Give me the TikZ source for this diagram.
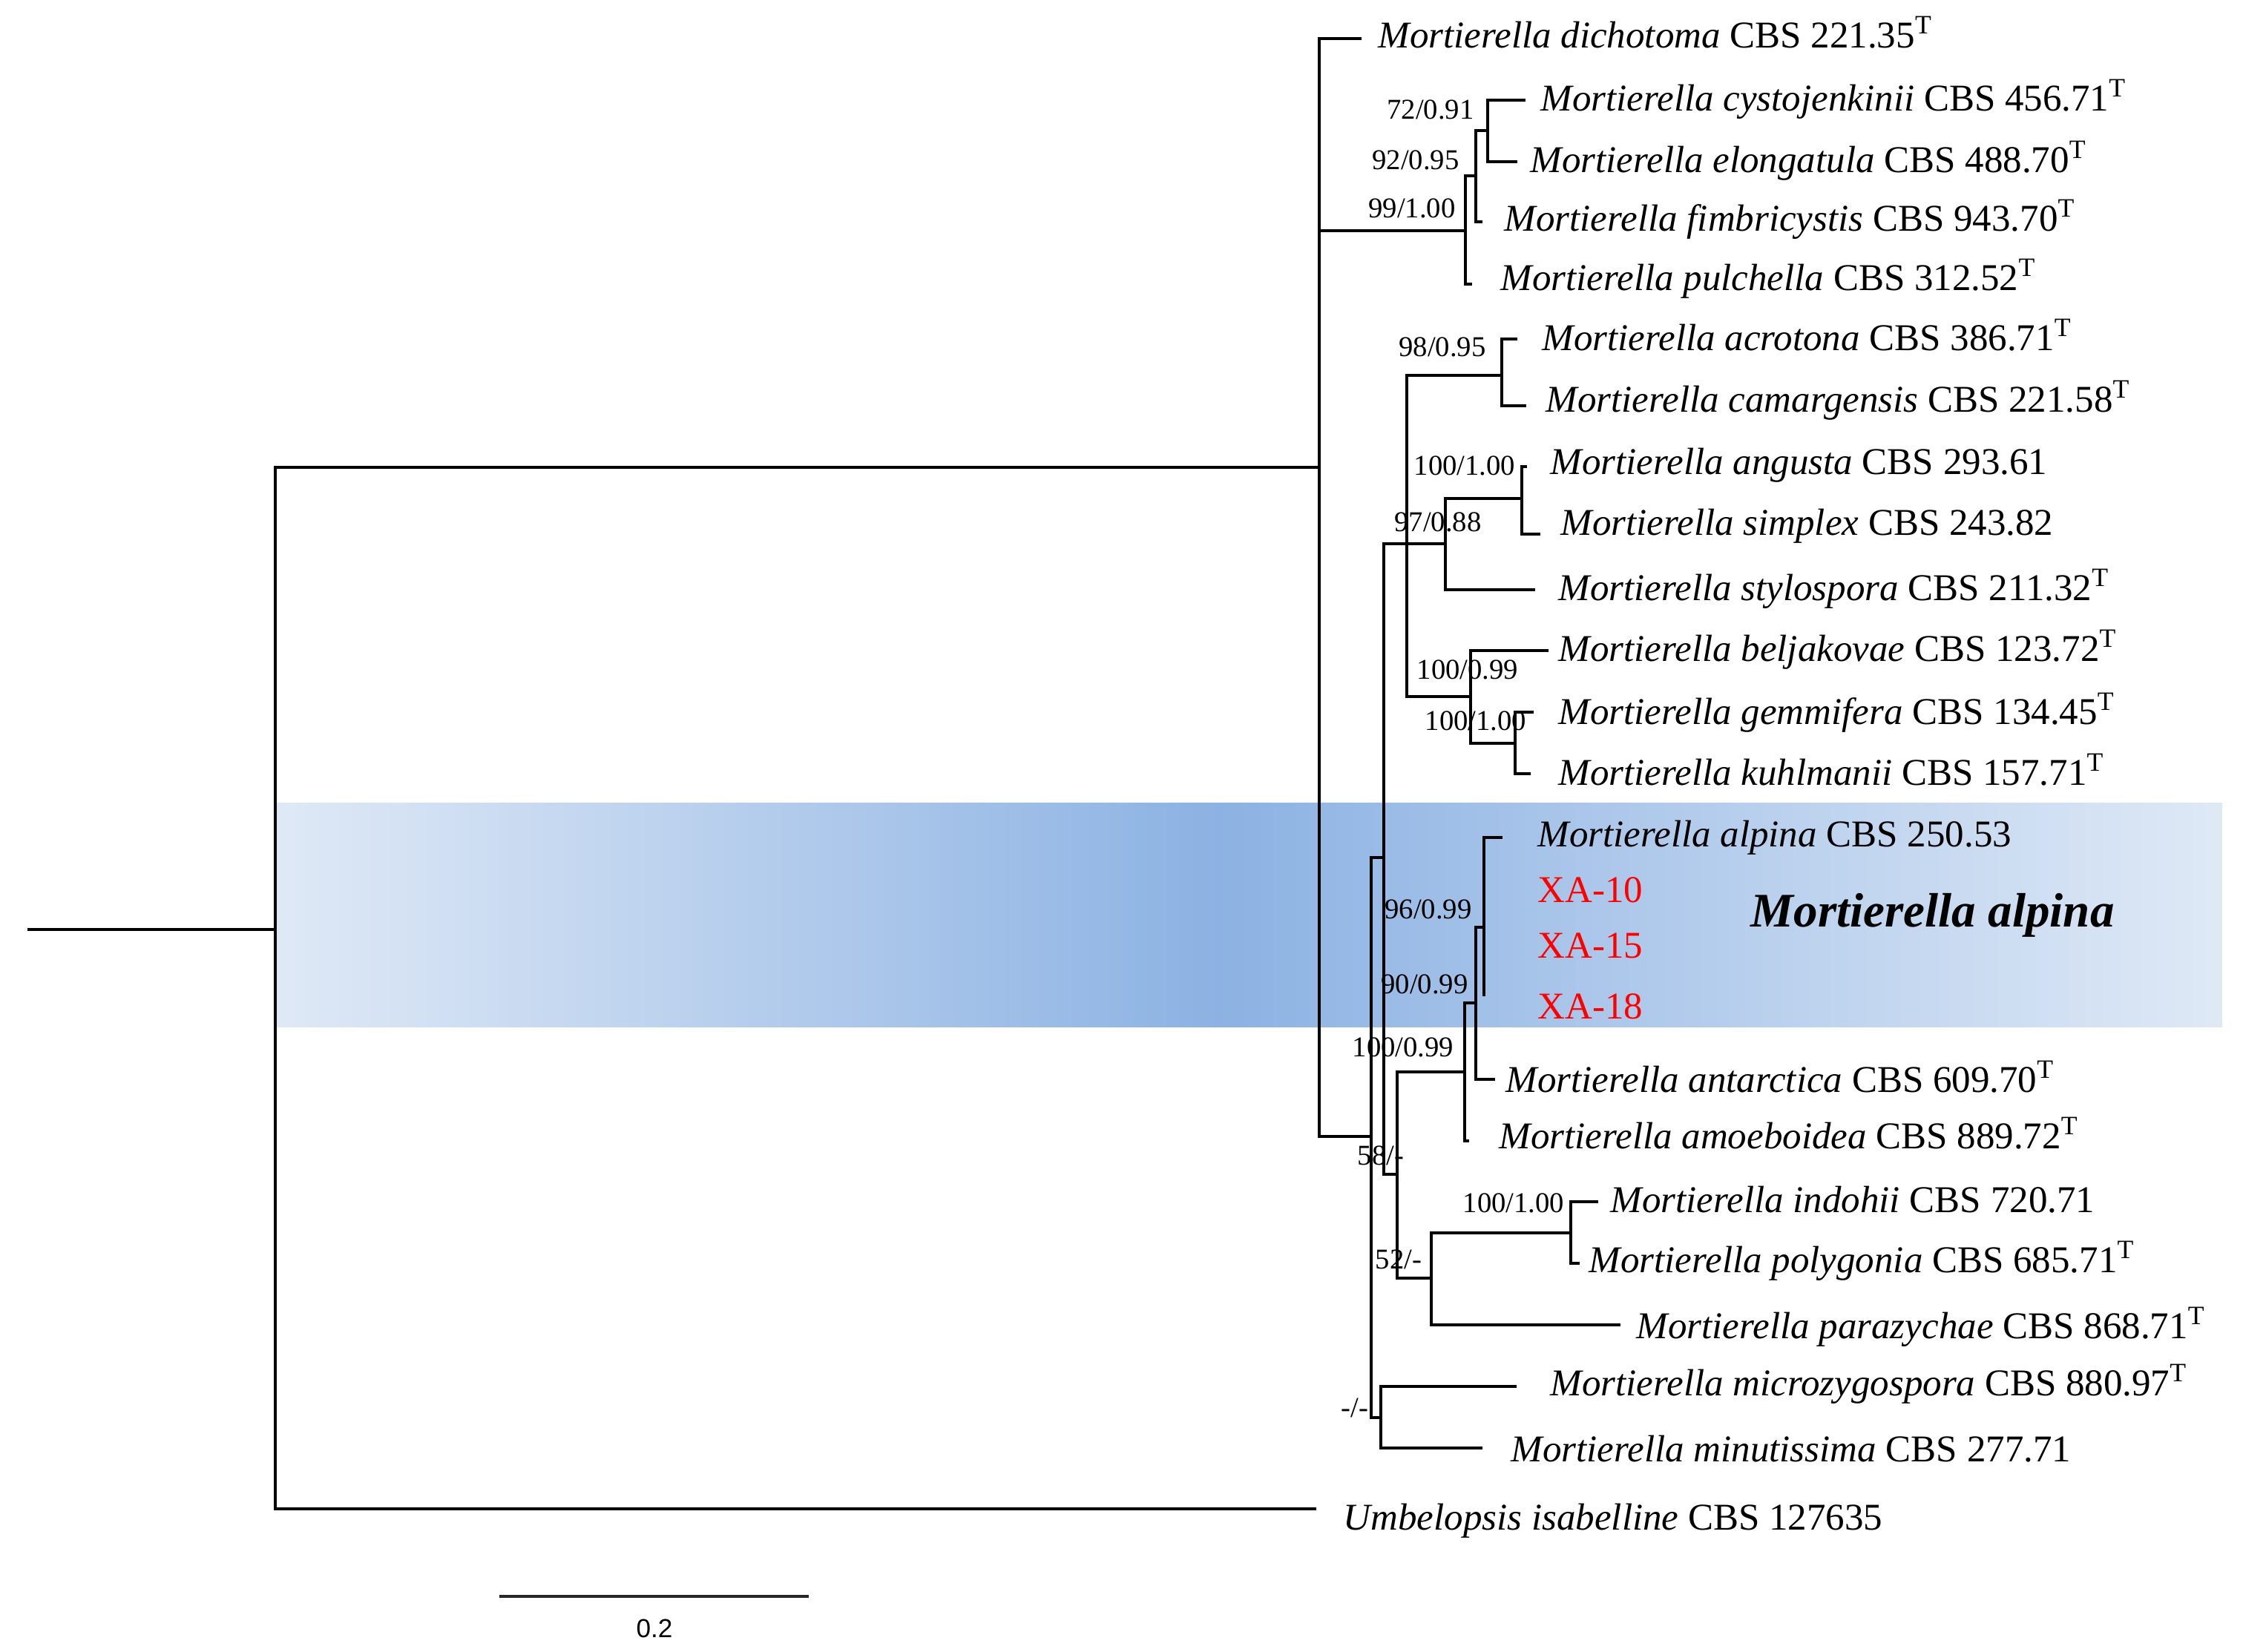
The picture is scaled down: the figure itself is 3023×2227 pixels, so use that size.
\documentclass[tikz,border=0pt]{standalone}
\usepackage{fontspec}
\setmainfont{Liberation Serif}
\setsansfont{Liberation Sans}
\usepackage{xcolor}
\definecolor{bandlight}{RGB}{223,233,246}
\definecolor{banddark}{RGB}{140,178,227}
\tikzset{branch/.style={line width=0.9pt, black}}
\tikzset{taxon/.style={anchor=mid west, inner sep=0pt, font=\fontsize{14.5}{16}\selectfont}}
\tikzset{strain/.style={taxon, text=red}}
\tikzset{support/.style={inner sep=0pt, font=\fontsize{11}{12}\selectfont}}
\newcommand{\mort}[2]{\textit{Mortierella #1} CBS #2}
\newcommand{\typ}{\textsuperscript{T}}

\begin{document}
\begin{tikzpicture}[x=0.01cm, y=-0.01cm]
  \useasboundingbox (0,0) rectangle (3023,2227);

  % highlighted clade
  \fill[left color=bandlight, right color=banddark] (372,1082) rectangle (1642,1384);
  \fill[left color=banddark, right color=bandlight] (1640,1082) rectangle (2995,1384);

  % internal nodes
  \coordinate (base) at (37,1253);
  \coordinate (root) at (371,1253);
  \coordinate (ingroup) at (1778,630);
  \coordinate (n99) at (1975,311);
  \coordinate (n92) at (1989,237);
  \coordinate (n72) at (2005,176);
  \coordinate (nlow) at (1848,1532);
  \coordinate (n58) at (1865,1156);
  \coordinate (n97) at (1896,733);
  \coordinate (n98) at (2024,506);
  \coordinate (n97b) at (1948,733);
  \coordinate (n100a) at (2051,672);
  \coordinate (n100b) at (1982,939);
  \coordinate (n100c) at (2042,1002);
  \coordinate (n52) at (1883,1583);
  \coordinate (n100d) at (1974,1445);
  \coordinate (n90) at (1989,1352);
  \coordinate (n96) at (2000,1250);
  \coordinate (nf) at (1929,1723);
  \coordinate (n100e) at (2117,1662);
  \coordinate (nmin) at (1861,1911);

  % tips
  \coordinate (tDich) at (1835,52);
  \coordinate (tCyst) at (2056,135);
  \coordinate (tElon) at (2045,218);
  \coordinate (tFimb) at (1998,299);
  \coordinate (tPulc) at (1984,383);
  \coordinate (tAcro) at (2045,457);
  \coordinate (tCama) at (2057,547);
  \coordinate (tAngu) at (2058,629);
  \coordinate (tSimp) at (2076,720);
  \coordinate (tStyl) at (2069,795);
  \coordinate (tBelj) at (2087,877);
  \coordinate (tGemm) at (2067,960);
  \coordinate (tKuhl) at (2063,1043);
  \coordinate (tAlpi) at (2025,1129);
  \coordinate (tXa) at (2000,1343);
  \coordinate (tAnta) at (2015,1455);
  \coordinate (tAmoe) at (1980,1538);
  \coordinate (tIndo) at (2154,1620);
  \coordinate (tPoly) at (2129,1703);
  \coordinate (tPara) at (2184,1786);
  \coordinate (tMicr) at (2044,1869);
  \coordinate (tMinu) at (1998,1952);
  \coordinate (tUmbe) at (1774,2034);

  % branches
  \draw[branch] (base) -- (root);
  \draw[branch] (root) |- (ingroup) (root) |- (tUmbe);
  \draw[branch] (ingroup) |- (tDich) (ingroup) |- (n99) (ingroup) |- (nlow);
  \draw[branch] (n99) |- (n92) (n99) |- (tPulc);
  \draw[branch] (n92) |- (n72) (n92) |- (tFimb);
  \draw[branch] (n72) |- (tCyst) (n72) |- (tElon);
  \draw[branch] (nlow) |- (n58) (nlow) |- (nmin);
  \draw[branch] (n58) |- (n97) (n58) |- (n52);
  \draw[branch] (n97) |- (n98) (n97) -- (n97b) (n97) |- (n100b);
  \draw[branch] (n98) |- (tAcro) (n98) |- (tCama);
  \draw[branch] (n97b) |- (n100a) (n97b) |- (tStyl);
  \draw[branch] (n100a) |- (tAngu) (n100a) |- (tSimp);
  \draw[branch] (n100b) |- (tBelj) (n100b) |- (n100c);
  \draw[branch] (n100c) |- (tGemm) (n100c) |- (tKuhl);
  \draw[branch] (n52) |- (n100d) (n52) |- (nf);
  \draw[branch] (n100d) |- (n90) (n100d) |- (tAmoe);
  \draw[branch] (n90) |- (n96) (n90) |- (tAnta);
  \draw[branch] (n96) |- (tAlpi) (n96) -- (tXa);
  \draw[branch] (nf) |- (n100e) (nf) |- (tPara);
  \draw[branch] (n100e) |- (tIndo) (n100e) |- (tPoly);
  \draw[branch] (nmin) |- (tMicr) (nmin) |- (tMinu);

  % taxa
  \node[taxon] (dich) at (1857,56) {\mort{dichotoma}{221.35\typ}};
  \node[taxon] (cyst) at (2076,141) {\mort{cystojenkinii}{456.71\typ}};
  \node[taxon] (elon) at (2062,224) {\mort{elongatula}{488.70\typ}};
  \node[taxon] (fimb) at (2027,303) {\mort{fimbricystis}{943.70\typ}};
  \node[taxon] (pulc) at (2022,383) {\mort{pulchella}{312.52\typ}};
  \node[taxon] (acro) at (2078,464) {\mort{acrotona}{386.71\typ}};
  \node[taxon] (cama) at (2083,547) {\mort{camargensis}{221.58\typ}};
  \node[taxon] (angu) at (2089,631) {\mort{angusta}{293.61}};
  \node[taxon] (simp) at (2103,713) {\mort{simplex}{243.82}};
  \node[taxon] (styl) at (2100,801) {\mort{stylospora}{211.32\typ}};
  \node[taxon] (belj) at (2100,883) {\mort{beljakovae}{123.72\typ}};
  \node[taxon] (gemm) at (2100,968) {\mort{gemmifera}{134.45\typ}};
  \node[taxon] (kuhl) at (2100,1050) {\mort{kuhlmanii}{157.71\typ}};
  \node[taxon] (alpi) at (2072,1133) {\mort{alpina}{250.53}};
  \node[strain] (xa10) at (2072,1208) {XA-10};
  \node[strain] (xa15) at (2072,1283) {XA-15};
  \node[strain] (xa18) at (2072,1365) {XA-18};
  \node[taxon] (anta) at (2029,1464) {\mort{antarctica}{609.70\typ}};
  \node[taxon] (amoe) at (2020,1540) {\mort{amoeboidea}{889.72\typ}};
  \node[taxon] (indo) at (2170,1626) {\mort{indohii}{720.71}};
  \node[taxon] (poly) at (2141,1707) {\mort{polygonia}{685.71\typ}};
  \node[taxon] (para) at (2205,1796) {\mort{parazychae}{868.71\typ}};
  \node[taxon] (micr) at (2089,1873) {\mort{microzygospora}{880.97\typ}};
  \node[taxon] (minu) at (2036,1962) {\mort{minutissima}{277.71}};
  \node[taxon] (umbe) at (1810,2054) {\textit{Umbelopsis isabelline} CBS 127635};

  \node[anchor=base west, inner sep=0pt, font=\bfseries\itshape\fontsize{18.5}{20}\selectfont] (clade) at (2359,1249) {Mortierella alpina};

  % support values
  \node[support] (s72) at (1928,148) {72/0.91};
  \node[support] (s92) at (1908,216) {92/0.95};
  \node[support] (s99) at (1903,281) {99/1.00};
  \node[support] (s98) at (1944,468) {98/0.95};
  \node[support] (s100a) at (1974,628) {100/1.00};
  \node[support] (s97) at (1938,704) {97/0.88};
  \node[support] (s100b) at (1978,903) {100/0.99};
  \node[support] (s100c) at (1989,972) {100/1.00};
  \node[support] (s96) at (1925,1226) {96/0.99};
  \node[support] (s90) at (1920,1327) {90/0.99};
  \node[support] (s100d) at (1891,1412) {100/0.99};
  \node[support] (s58) at (1861,1558) {58/-};
  \node[support] (s100e) at (2040,1622) {100/1.00};
  \node[support] (s52) at (1885,1698) {52/-};
  \node[support] (smin) at (1826,1898) {-/-};

  % scale bar
  \coordinate (sbL) at (673,2152);
  \coordinate (sbR) at (1090,2152);
  \draw[line width=1.2pt, black!85] (sbL) -- (sbR);
  \node[inner sep=0pt, font=\sffamily\fontsize{10}{12}\selectfont] (sbtext) at (882,2195) {0.2};
\end{tikzpicture}
\end{document}
